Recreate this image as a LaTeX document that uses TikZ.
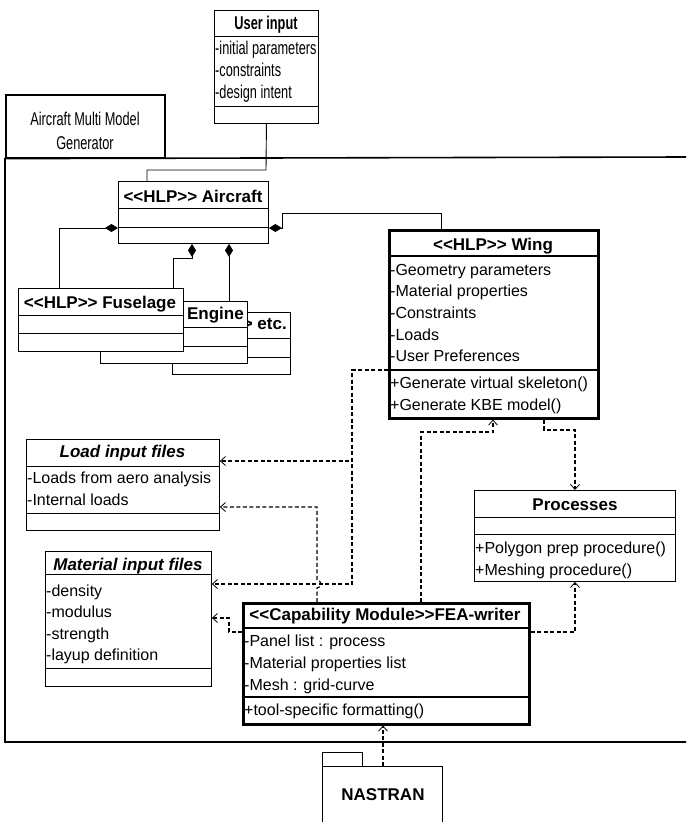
\documentclass[tikz,border=0pt]{standalone}
\usepackage{fontspec}
\setmainfont{Liberation Sans}
\newfontfamily\narrowsans[FakeStretch=0.69]{Liberation Sans}
\usetikzlibrary{arrows.meta,backgrounds}

\begin{document}
\begin{tikzpicture}[x=1pt,y=-1pt,
  classbox/.style={draw,fill=white,line width=0.9pt,anchor=north west,inner sep=0},
  heavybox/.style={classbox,line width=2.6pt},
  divider/.style={line width=0.9pt},
  heavydivider/.style={line width=2.6pt},
  clstitle/.style={font=\fontsize{17}{20}\selectfont\bfseries,anchor=base,inner sep=0},
  clsattr/.style={font=\fontsize{16}{19}\selectfont,anchor=base west,inner sep=0},
  narrowtext/.style={font=\narrowsans\fontsize{18.5}{22}\selectfont,anchor=base,inner sep=0},
  pkgline/.style={line width=1.6pt},
  plainlink/.style={line width=0.9pt},
  compose/.style={line width=0.9pt,{Diamond[length=13pt,width=8pt]}-},
  depend/.style={line width=1.2pt,dash pattern=on 4pt off 2.5pt,
    -{Straight Barb[length=5pt,width=9pt,line width=0.8pt]}}]
\useasboundingbox (0,0) rectangle (686,822);

% user input
\node[classbox,minimum width=104,minimum height=113] (user) at (214,10) {};
\draw[divider] (user.west |- 0,36) -- (user.east |- 0,36);
\draw[divider] (user.west |- 0,106) -- (user.east |- 0,106);
\node[narrowtext,font=\narrowsans\bfseries\fontsize{18.5}{22}\selectfont] (usertitle) at (266,29.3) {User input};
\node[narrowtext,anchor=base west] (userattr1) at (215,54.3) {-initial parameters};
\node[narrowtext,anchor=base west] (userattr2) at (215,76) {-constraints};
\node[narrowtext,anchor=base west] (userattr3) at (215,98) {-design intent};

% package
\node[classbox,line width=1.6pt,minimum width=159,minimum height=63] (pkgtab) at (5,94) {};
\node[narrowtext] (pkgname1) at (85,125) {Aircraft Multi Model};
\node[narrowtext] (pkgname2) at (85,149) {Generator};

% aircraft
\node[classbox,minimum width=150,minimum height=62] (aircraft) at (118,181) {};
\draw[divider] (aircraft.west |- 0,208) -- (aircraft.east |- 0,208);
\draw[divider] (aircraft.west |- 0,227) -- (aircraft.east |- 0,227);
\node[clstitle] (aircrafttitle) at (193,202.7) {<{}<HLP>{}> Aircraft};

% etc, engine, fuselage
\node[classbox,minimum width=118,minimum height=62] (etcbox) at (172,312) {};
\draw[divider] (etcbox.west |- 0,338) -- (etcbox.east |- 0,338);
\draw[divider] (etcbox.west |- 0,357) -- (etcbox.east |- 0,357);
\node[clstitle,anchor=base east] (etctitle) at (287,329) {> etc.};

\node[classbox,minimum width=147,minimum height=62] (engine) at (100,301) {};
\draw[divider] (engine.west |- 0,327) -- (engine.east |- 0,327);
\draw[divider] (engine.west |- 0,346) -- (engine.east |- 0,346);
\node[clstitle,anchor=base east] (enginetitle) at (244,319) {Engine};

\node[classbox,minimum width=165,minimum height=63] (fuselage) at (18,288) {};
\draw[divider] (fuselage.west |- 0,315) -- (fuselage.east |- 0,315);
\draw[divider] (fuselage.west |- 0,333) -- (fuselage.east |- 0,333);
\node[clstitle] (fuselagetitle) at (100,308.3) {<{}<HLP>{}> Fuselage};

% wing
\node[heavybox,minimum width=209,minimum height=188] (wing) at (388,229) {};
\draw[heavydivider] (wing.west |- 0,256) -- (wing.east |- 0,256);
\draw[heavydivider] (wing.west |- 0,370) -- (wing.east |- 0,370);
\node[clstitle] (wingtitle) at (493,250) {<{}<HLP>{}> Wing};
\node[clsattr] (wingattr1) at (390,275) {-Geometry parameters};
\node[clsattr] (wingattr2) at (390,296.7) {-Material properties};
\node[clsattr] (wingattr3) at (390,318.4) {-Constraints};
\node[clsattr] (wingattr4) at (390,340) {-Loads};
\node[clsattr] (wingattr5) at (390,361.7) {-User Preferences};
\node[clsattr] (wingop1) at (390,388) {+Generate virtual skeleton()};
\node[clsattr] (wingop2) at (390,410) {+Generate KBE model()};

% load input files
\node[classbox,minimum width=193,minimum height=91] (loadf) at (26,439) {};
\draw[divider] (loadf.west |- 0,466) -- (loadf.east |- 0,466);
\draw[divider] (loadf.west |- 0,513) -- (loadf.east |- 0,513);
\node[clstitle,font=\fontsize{17}{20}\selectfont\bfseries\itshape] (loadtitle) at (122.5,457) {Load input files};
\node[clsattr] (loadattr1) at (27,483.3) {-Loads from aero analysis};
\node[clsattr] (loadattr2) at (27,505) {-Internal loads};

% material input files
\node[classbox,minimum width=166,minimum height=135] (matf) at (45,551) {};
\draw[divider] (matf.west |- 0,574) -- (matf.east |- 0,574);
\draw[divider] (matf.west |- 0,668) -- (matf.east |- 0,668);
\node[clstitle,font=\fontsize{17}{20}\selectfont\bfseries\itshape] (mattitle) at (128,570) {Material input files};
\node[clsattr] (matattr1) at (46,596) {-density};
\node[clsattr] (matattr2) at (46,617) {-modulus};
\node[clsattr] (matattr3) at (46,639) {-strength};
\node[clsattr] (matattr4) at (46,660) {-layup definition};

% processes
\node[classbox,minimum width=201,minimum height=91] (proc) at (474,490) {};
\draw[divider] (proc.west |- 0,517) -- (proc.east |- 0,517);
\draw[divider] (proc.west |- 0,534) -- (proc.east |- 0,534);
\node[clstitle] (proctitle) at (575,510) {Processes};
\node[clsattr] (procop1) at (475,553.3) {+Polygon prep procedure()};
\node[clsattr] (procop2) at (475,575) {+Meshing procedure()};

% FEA writer
\node[heavybox,minimum width=286,minimum height=121] (fea) at (242,602) {};
\draw[heavydivider] (fea.west |- 0,628) -- (fea.east |- 0,628);
\draw[heavydivider] (fea.west |- 0,697) -- (fea.east |- 0,697);
\node[clstitle] (featitle) at (385,620.7) {<{}<Capability Module>{}>FEA-writer};
\node[clsattr] (feaattr1) at (244,646.7) {-Panel list : process};
\node[clsattr] (feaattr2) at (244,668.3) {-Material properties list};
\node[clsattr] (feaattr3) at (244,690) {-Mesh : grid-curve};
\node[clsattr] (feaop1) at (244,715.7) {+tool-specific formatting()};

% NASTRAN package
\node[classbox,minimum width=40,minimum height=14] (nastrantab) at (322,752) {};
\draw[divider] (322,822) -- (322,766) -- (442,766) -- (442,822);
\coordinate (nastrantop) at (383,766);
\node[clstitle] (nastran) at (383,800) {NASTRAN};

\begin{scope}[on background layer]
  \draw[pkgline] (686,157) -- (pkgtab.south west) -- (5,742) -- (686,742);
  \draw[plainlink] (user.south) -- (266,170) -| (aircraft.north -| 147,0);
  \draw[compose] (aircraft.west |- 0,228) -| (fuselage.north -| 59,0);
  \draw[compose] (aircraft.east |- 0,228) -- (282,228) |- (441,213) -- (wing.north -| 441,0);
  \draw[compose] (aircraft.south -| 192,0) -- (192,258) -| (engine.north -| 173,0);
  \draw[compose] (aircraft.south -| 229,0) -- (etcbox.north -| 229,0);
  \draw[depend] (wing.west |- 0,370) -| (352,461) -- (loadf.east |- 0,461);
  \draw[depend] (wing.west |- 0,370) -| (352,584) -- (matf.east |- 0,584);
  \draw[depend] (fea.north -| 317,0) -- (317,588) .. controls (322,588) and (322,580) .. (317,580)
    -- (317,507) -- (loadf.east |- 0,507);
  \draw[depend] (fea.north -| 421,0) |- (493,432) -- (wing.south -| 493,0);
  \draw[depend] (wing.south -| 544,0) |- (575,430) -- (proc.north -| 575,0);
  \draw[depend] (fea.east |- 0,632) -| (proc.south -| 575,0);
  \draw[depend] (fea.west |- 0,632) -| (229,618) -- (matf.east |- 0,618);
  \draw[depend] (nastrantop) -- (fea.south -| 383,0);
\end{scope}
\end{tikzpicture}
\end{document}
